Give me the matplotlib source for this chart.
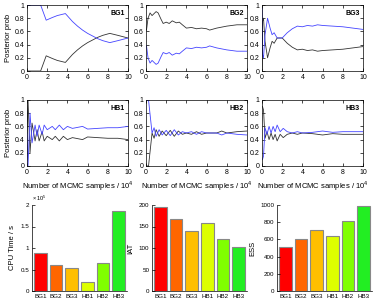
import numpy as np
import matplotlib
matplotlib.use('Agg')
import matplotlib.pyplot as plt

plt.rcParams['font.family'] = ['Liberation Sans', 'DejaVu Sans']
plt.rcParams['font.size'] = 5
plt.rcParams['mathtext.fontset'] = 'custom'
plt.rcParams['mathtext.rm'] = 'Liberation Sans'

# posterior probability of the first model (dark line); blue = 1 - dark
bg1_x = [0, 1.35, 1.9, 2.5, 3.0, 3.8, 4.5, 5.0, 5.5, 6.0, 6.5, 7.0, 7.5, 8.2, 9.0, 10]
bg1_p = [0, 0, 0.23, 0.19, 0.16, 0.13, 0.25, 0.32, 0.38, 0.43, 0.47, 0.51, 0.54, 0.57, 0.54, 0.50]

bg2_x = [0.05, 0.2, 0.4, 0.6, 0.8, 1.0, 1.2, 1.5, 1.7, 2.0, 2.3, 2.6, 3.0, 3.3, 3.6, 4.0,
         4.5, 5.0, 5.5, 6.0, 6.3, 7.0, 8.0, 9.0, 10]
bg2_p = [0.62, 0.80, 0.88, 0.84, 0.87, 0.90, 0.88, 0.78, 0.72, 0.74, 0.72, 0.76, 0.73, 0.74,
         0.70, 0.65, 0.66, 0.64, 0.65, 0.64, 0.62, 0.65, 0.68, 0.70, 0.70]

bg3_x = [0, 0.05, 0.15, 0.3, 0.55, 0.8, 1.0, 1.2, 1.5, 2.0, 2.5, 3.0, 3.5, 4.0, 4.5, 5.0,
         5.5, 6.0, 7.0, 8.0, 9.0, 10]
bg3_p = [0.05, 0.75, 0.80, 0.45, 0.20, 0.35, 0.45, 0.42, 0.50, 0.50, 0.42, 0.36, 0.32, 0.33,
         0.31, 0.32, 0.30, 0.31, 0.32, 0.33, 0.35, 0.37]

hb1_x = [0, 0.1, 0.3, 0.5, 0.8, 1.0, 1.2, 1.5, 1.7, 2.0, 2.5, 2.8, 3.2, 3.6, 4.0, 4.5,
         5.5, 6.0, 7.0, 8.0, 9.0, 10]
hb1_p = [0.50, 1.0, 0.20, 0.65, 0.38, 0.55, 0.38, 0.52, 0.38, 0.45, 0.40, 0.45, 0.38, 0.45,
         0.40, 0.43, 0.40, 0.44, 0.43, 0.42, 0.42, 0.40]

hb2_x = [0, 0.25, 0.6, 0.8, 1.0, 1.3, 1.6, 2.0, 2.4, 2.8, 3.2, 3.6, 4.0, 4.5, 5.0, 5.5,
         6.0, 7.0, 7.5, 8.0, 9.0, 10]
hb2_p = [0, 0, 0.50, 0.42, 0.55, 0.45, 0.53, 0.46, 0.54, 0.45, 0.53, 0.48, 0.50, 0.48, 0.52,
         0.48, 0.50, 0.50, 0.53, 0.50, 0.52, 0.53]

hb3_x = [0, 0.05, 0.15, 0.3, 0.5, 0.7, 0.9, 1.1, 1.3, 1.5, 1.8, 2.1, 2.5, 3.0, 3.5, 4.0,
         5.0, 6.0, 7.0, 8.0, 9.0, 10]
hb3_p = [0.90, 0.90, 0.85, 0.42, 0.52, 0.40, 0.50, 0.40, 0.48, 0.38, 0.48, 0.43, 0.48, 0.50,
         0.48, 0.50, 0.49, 0.47, 0.49, 0.48, 0.48, 0.48]

trace_names = ['BG1', 'BG2', 'BG3', 'HB1', 'HB2', 'HB3']
trace_x = [bg1_x, bg2_x, bg3_x, hb1_x, hb2_x, hb3_x]
trace_p = [bg1_p, bg2_p, bg3_p, hb1_p, hb2_p, hb3_p]

methods = ['BG1', 'BG2', 'BG3', 'HB1', 'HB2', 'HB3']
cpu_time = [0.88e5, 0.60e5, 0.53e5, 0.20e5, 0.65e5, 1.87e5]
iat = [195, 168, 140, 159, 121, 102]
ess = [510, 600, 705, 635, 810, 985]
bar_colors = ['#ff0000', '#ff6600', '#ffbf00', '#ddff00', '#80ff00', '#22ee22']

fig = plt.figure(figsize=(3.74, 3.02), dpi=100)
W, H = 374.0, 302.0

lefts = [27, 146, 262]
tops = [5, 100]
aw, ah = 101, 66

for i in range(6):
    r, c = divmod(i, 3)
    ax = fig.add_axes([lefts[c] / W, 1 - (tops[r] + ah) / H, aw / W, ah / H])
    x = np.array(trace_x[i])
    p = np.array(trace_p[i])
    ax.plot(x, p, color='#333333', lw=0.6)
    ax.plot(x, 1 - p, color='#4444ff', lw=0.6)
    ax.set_xlim(0, 10)
    ax.set_ylim(0, 1)
    ax.set_xticks([0, 2, 4, 6, 8, 10])
    ax.set_yticks([0, 0.2, 0.4, 0.6, 0.8, 1])
    ax.set_yticklabels(['0', '0.2', '0.4', '0.6', '0.8', '1'])
    ax.tick_params(direction='in', length=2, width=0.5, labelsize=5, pad=2,
                   top=True, right=True)
    for s in ax.spines.values():
        s.set_linewidth(0.5)
    ax.text(0.97, 0.93, trace_names[i], transform=ax.transAxes, ha='right', va='top',
            fontsize=5, fontweight='bold')
    if c == 0:
        ax.set_ylabel('Posterior prob', fontsize=5.5, labelpad=2)
    if r == 1:
        ax.set_xlabel('Number of MCMC samples / 10$^4$', fontsize=5.5, labelpad=2)

bar_lefts = [32, 152, 277]
bar_top, bar_h, bar_w = 205, 86, 95
bar_data = [np.array(cpu_time) / 1e5, iat, ess]
bar_ylabels = ['CPU Time / s', 'IAT', 'ESS']
bar_ylims = [(0, 2), (0, 200), (0, 1000)]
bar_yticks = [[0, 0.5, 1, 1.5, 2], [0, 50, 100, 150, 200],
              [0, 200, 400, 600, 800, 1000]]
bar_yticklabels = [['0', '0.5', '1', '1.5', '2'], None, None]

for j in range(3):
    ax = fig.add_axes([bar_lefts[j] / W, 1 - (bar_top + bar_h) / H, bar_w / W, bar_h / H])
    ax.bar(np.arange(6), bar_data[j], width=0.8, color=bar_colors,
           edgecolor='#888888', linewidth=0.8)
    ax.set_xlim(-0.55, 5.55)
    ax.set_ylim(*bar_ylims[j])
    ax.set_yticks(bar_yticks[j])
    if bar_yticklabels[j] is not None:
        ax.set_yticklabels(bar_yticklabels[j])
    ax.set_xticks(np.arange(6))
    ax.set_xticklabels(methods)
    ax.spines['top'].set_visible(False)
    ax.spines['right'].set_visible(False)
    for s in ax.spines.values():
        s.set_linewidth(0.5)
    ax.tick_params(direction='in', length=2, width=0.5, labelsize=4.5, pad=2)
    ax.tick_params(axis='x', length=0)
    ax.set_ylabel(bar_ylabels[j], fontsize=5.5, labelpad=3)
    if j == 0:
        ax.text(0.0, 1.02, '× 10$^5$', transform=ax.transAxes, ha='left', va='bottom',
                fontsize=4)

fig.savefig('out.png', dpi=100)
